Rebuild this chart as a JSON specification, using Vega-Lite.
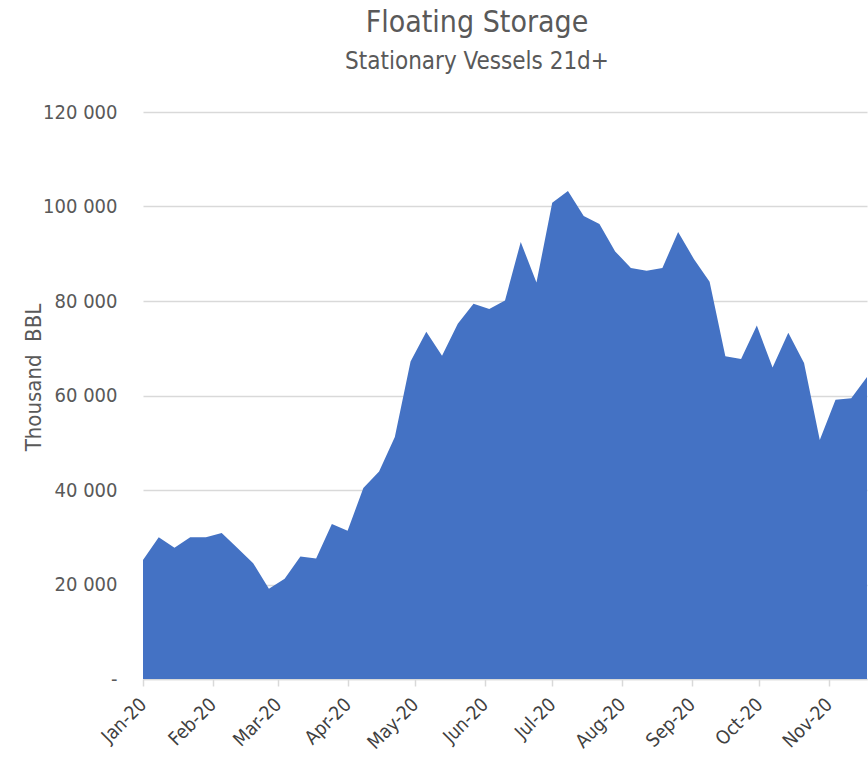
{
  "$schema": "https://vega.github.io/schema/vega-lite/v6.json",
  "width": 724,
  "height": 567,
  "autosize": {"type": "none"},
  "padding": {"left": 143, "top": 112, "right": 1, "bottom": 78},
  "background": "white",
  "config": {"view": {"stroke": null}},
  "title": {
    "text": "Floating Storage",
    "subtitle": "Stationary Vessels 21d+",
    "anchor": "middle",
    "frame": "group",
    "dx": -28,
    "offset": 28,
    "font": "DejaVu Sans Condensed, Liberation Sans",
    "fontSize": 30,
    "fontWeight": "normal",
    "color": "#595959",
    "subtitleFont": "DejaVu Sans Condensed, Liberation Sans",
    "subtitleFontSize": 24,
    "subtitleColor": "#595959",
    "subtitlePadding": 12
  },
  "data": {
    "values": [
      {"date": "2020-01-01", "kbbl": 25200},
      {"date": "2020-01-08", "kbbl": 30000},
      {"date": "2020-01-15", "kbbl": 27800},
      {"date": "2020-01-22", "kbbl": 30000},
      {"date": "2020-01-29", "kbbl": 30000},
      {"date": "2020-02-05", "kbbl": 30900},
      {"date": "2020-02-12", "kbbl": 27700},
      {"date": "2020-02-19", "kbbl": 24500},
      {"date": "2020-02-26", "kbbl": 19100},
      {"date": "2020-03-04", "kbbl": 21200},
      {"date": "2020-03-11", "kbbl": 25900},
      {"date": "2020-03-18", "kbbl": 25500},
      {"date": "2020-03-25", "kbbl": 32800},
      {"date": "2020-04-01", "kbbl": 31400},
      {"date": "2020-04-08", "kbbl": 40400},
      {"date": "2020-04-15", "kbbl": 43900},
      {"date": "2020-04-22", "kbbl": 51200},
      {"date": "2020-04-29", "kbbl": 67200},
      {"date": "2020-05-06", "kbbl": 73500},
      {"date": "2020-05-13", "kbbl": 68400},
      {"date": "2020-05-20", "kbbl": 75200},
      {"date": "2020-05-27", "kbbl": 79400},
      {"date": "2020-06-03", "kbbl": 78300},
      {"date": "2020-06-10", "kbbl": 80100},
      {"date": "2020-06-17", "kbbl": 92500},
      {"date": "2020-06-24", "kbbl": 83900},
      {"date": "2020-07-01", "kbbl": 100800},
      {"date": "2020-07-08", "kbbl": 103300},
      {"date": "2020-07-15", "kbbl": 98000},
      {"date": "2020-07-22", "kbbl": 96300},
      {"date": "2020-07-29", "kbbl": 90500},
      {"date": "2020-08-05", "kbbl": 87000},
      {"date": "2020-08-12", "kbbl": 86400},
      {"date": "2020-08-19", "kbbl": 87000},
      {"date": "2020-08-26", "kbbl": 94600},
      {"date": "2020-09-02", "kbbl": 88900},
      {"date": "2020-09-09", "kbbl": 84100},
      {"date": "2020-09-16", "kbbl": 68300},
      {"date": "2020-09-23", "kbbl": 67700},
      {"date": "2020-09-30", "kbbl": 74800},
      {"date": "2020-10-07", "kbbl": 65900},
      {"date": "2020-10-14", "kbbl": 73300},
      {"date": "2020-10-21", "kbbl": 66900},
      {"date": "2020-10-28", "kbbl": 50600},
      {"date": "2020-11-04", "kbbl": 59100},
      {"date": "2020-11-11", "kbbl": 59400},
      {"date": "2020-11-18", "kbbl": 63900}
    ]
  },
  "mark": {"type": "area", "color": "#4472C4", "opacity": 1, "interpolate": "linear"},
  "encoding": {
    "x": {
      "field": "date",
      "type": "temporal",
      "scale": {"domain": [{"year": 2020, "month": 1, "date": 1}, {"year": 2020, "month": 11, "date": 18}], "nice": false},
      "axis": {
        "title": null,
        "format": "%b-%y",
        "tickCount": {"interval": "month", "step": 1},
        "labelAngle": -45,
        "labelAlign": "right",
        "labelBaseline": "middle",
        "labelFont": "DejaVu Sans Condensed, Liberation Sans",
        "labelFontSize": 19,
        "labelColor": "#404040",
        "labelPadding": 15,
        "grid": false,
        "domainColor": "#d9d9d9",
        "domainWidth": 1.5,
        "tickColor": "#d9d9d9",
        "tickWidth": 1.5,
        "tickSize": 7,
        "labelOverlap": false,
        "labelBound": false,
        "labelFlush": false
      }
    },
    "y": {
      "field": "kbbl",
      "type": "quantitative",
      "scale": {"domain": [0, 120000], "nice": false},
      "axis": {
        "title": "Thousand\u00a0 BBL",
        "titleFont": "DejaVu Sans Condensed, Liberation Sans",
        "titleFontSize": 22,
        "titleFontWeight": "normal",
        "titleColor": "#595959",
        "titleAngle": -90,
        "titleAlign": "center",
        "titleBaseline": "alphabetic",
        "titleX": -103,
        "titleY": 265,
        "values": [0, 20000, 40000, 60000, 80000, 100000, 120000],
        "labelExpr": "datum.value == 0 ? '-' : replace(format(datum.value, ',d'), ',', ' ')",
        "labelFont": "DejaVu Sans Condensed, Liberation Sans",
        "labelFontSize": 20,
        "labelColor": "#595959",
        "labelPadding": 26,
        "domain": false,
        "ticks": false,
        "gridColor": "#d9d9d9",
        "gridWidth": 1.5
      }
    }
  }
}
